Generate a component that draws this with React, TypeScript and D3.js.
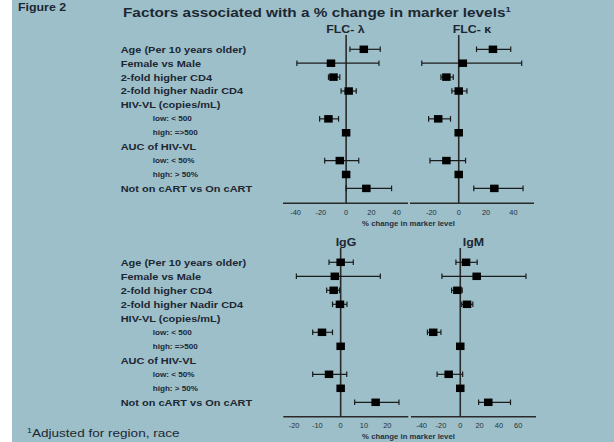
import React from 'react';
import * as d3 from 'd3';

// row labels (shared by the upper and lower blocks)
const rowLabels = [
  'Age (Per 10 years older)',
  'Female vs Male',
  '2-fold higher CD4',
  '2-fold higher Nadir CD4',
  'HIV-VL (copies/mL)',
  'low: < 500',
  'high: =>500',
  'AUC of HIV-VL',
  'low: < 50%',
  'high: > 50%',
  'Not on cART vs On cART'
];
const rowKinds = ['main', 'main', 'main', 'main', 'main', 'sub', 'sub', 'main', 'sub', 'sub', 'main'];

// % change estimates with 95% CI (null = header row / reference level)
const flcLambdaEst = [14, -12, -10, 2, null, -14, 0, null, -5, 0, 16];
const flcLambdaLo = [3, -39, -14, -4, null, -21, null, null, -17, null, 0];
const flcLambdaHi = [27, 26, -5, 8, null, -6, null, null, 10, null, 36];

const flcKappaEst = [25, 3, -9, 0, null, -15, 0, null, -9, 0, 26];
const flcKappaLo = [13, -27, -13, -5, null, -22, null, null, -21, null, 11];
const flcKappaHi = [38, 46, -4, 6, null, -6, null, null, 5, null, 47];

const iggEst = [0, -2.5, -3, -0.3, null, -8, 0, null, -5, 0, 15];
const iggLo = [-5, -19, -6, -3.5, null, -12, null, null, -12, null, 6];
const iggHi = [5.4, 17, -0.5, 2.7, null, -3.5, null, null, 2.6, null, 25];

const igmEst = [6, 17, -3, 7, null, -28, 0, null, -12, 0, 29];
const igmLo = [-4.5, -19, -9, 1.5, null, -34, null, null, -24, null, 19];
const igmHi = [17.5, 68, 2, 13, null, -20, null, null, 2.5, null, 52];

// axis ticks and extents
const flcLambdaTicks = [-40, -20, 0, 20, 40];
const flcKappaTicks = [-20, 0, 20, 40];
const iggTicks = [-20, -10, 0, 10, 20];
const igmTicks = [-40, -20, 0, 20, 40, 60];

const flcLambdaDomain = [-50, 49];
const flcKappaDomain = [-35.6, 55];
const iggDomain = [-24.6, 29];
const igmDomain = [-51, 78.4];

const panelNames = ['FLC- \u03bb', 'FLC- \u03ba', 'IgG', 'IgM'];

const W = 614;
const H = 442;
const BG = '#9dbfc9';
const INK = '#1c2733';
const LINE = '#1b1b1b';
const SX = 1.18; // the original text is a bit wide

// upper and lower block geometry
const blocks = [
  { rowTop: 49.3, rowBottom: 188.4, lineTop: 35, axisY: 203.3, titleY: 33 },
  { rowTop: 262.3, rowBottom: 402.3, lineTop: 248, axisY: 416.7, titleY: 246 }
];

const panels = [
  { name: panelNames[0], est: flcLambdaEst, lo: flcLambdaLo, hi: flcLambdaHi, ticks: flcLambdaTicks, domain: flcLambdaDomain, range: [283, 408], block: 0, titleX: 345.5 },
  { name: panelNames[1], est: flcKappaEst, lo: flcKappaLo, hi: flcKappaHi, ticks: flcKappaTicks, domain: flcKappaDomain, range: [410, 534], block: 0, titleX: 472 },
  { name: panelNames[2], est: iggEst, lo: iggLo, hi: iggHi, ticks: iggTicks, domain: iggDomain, range: [283.3, 408.3], block: 1, titleX: 346 },
  { name: panelNames[3], est: igmEst, lo: igmLo, hi: igmHi, ticks: igmTicks, domain: igmDomain, range: [411, 536], block: 1, titleX: 473.5 }
];

function T({ x, y, size, weight = 'bold', anchor = 'start', fill = INK, children }: any) {
  return (
    <text
      transform={`translate(${x},${y}) scale(${SX},1)`}
      fontFamily="'Liberation Sans', Arial, sans-serif"
      fontSize={size}
      fontWeight={weight}
      textAnchor={anchor}
      fill={fill}
    >
      {children}
    </text>
  );
}

function Panel({ p }: any) {
  const b = blocks[p.block];
  const x = d3.scaleLinear().domain(p.domain).range(p.range);
  const y = d3.scaleLinear().domain([0, rowLabels.length - 1]).range([b.rowTop, b.rowBottom]);
  const cap = 2.8;
  const sw = 8.5;
  const sh = 7.5;
  return (
    <g>
      <T x={p.titleX} y={b.titleY} size={10.5} anchor="middle">{p.name}</T>
      <line x1={x(0)} x2={x(0)} y1={b.lineTop} y2={b.axisY} stroke="#2a2a2a" strokeWidth={1.6} />
      <line x1={p.range[0]} x2={p.range[1]} y1={b.axisY} y2={b.axisY} stroke="#2a2a2a" strokeWidth={1.6} />
      {p.ticks.map((t: number) => (
        <T key={t} x={x(t)} y={b.axisY + 11.3} size={6.3} weight="normal" anchor="middle" fill="#26313c">
          {t < 0 ? '-' + Math.abs(t) : String(t)}
        </T>
      ))}
      {p.est.map((v: number | null, i: number) => {
        if (v === null) return null;
        const lo = p.lo[i];
        const hi = p.hi[i];
        const yy = y(i);
        return (
          <g key={i}>
            {lo !== null && hi !== null && (
              <g stroke={LINE} strokeWidth={1.2}>
                <line x1={x(lo)} x2={x(hi)} y1={yy} y2={yy} />
                <line x1={x(lo)} x2={x(lo)} y1={yy - cap} y2={yy + cap} />
                <line x1={x(hi)} x2={x(hi)} y1={yy - cap} y2={yy + cap} />
              </g>
            )}
            <rect x={x(v) - sw / 2} y={yy - sh / 2} width={sw} height={sh} fill="#000" />
          </g>
        );
      })}
    </g>
  );
}

export default function App() {
  return (
    <svg width={W} height={H} style={{ position: 'absolute', left: 0, top: 0, display: 'block' }}>
      <rect x={0} y={0} width={W} height={H} fill="#fff" />
      <rect x={12} y={0} width={W - 12} height={H} fill={BG} />

      <T x={18} y={10.5} size={10.5}>Figure 2</T>
      <T x={123} y={16.5} size={13}>
        Factors associated with a % change in marker levels
        <tspan fontSize={8} dy={-5}>1</tspan>
      </T>

      {blocks.map((b, bi) => {
        const y = d3.scaleLinear().domain([0, rowLabels.length - 1]).range([b.rowTop, b.rowBottom]);
        return (
          <g key={bi}>
            {rowLabels.map((l, i) =>
              rowKinds[i] === 'sub' ? (
                <T key={i} x={152.7} y={y(i) + 2.5} size={6.9}>{l}</T>
              ) : (
                <T key={i} x={120.7} y={y(i) + 3.4} size={9.3}>{l}</T>
              )
            )}
            <T x={408.5} y={b.axisY + 22.3} size={6.6} anchor="middle" fill="#26313c">% change in marker level</T>
          </g>
        );
      })}

      {panels.map((p, i) => <Panel key={i} p={p} />)}

      <T x={27} y={437} size={11.5} weight="normal">
        <tspan fontSize={7.5} dy={-4}>1</tspan>
        <tspan dy={4}>Adjusted for region, race</tspan>
      </T>
    </svg>
  );
}
